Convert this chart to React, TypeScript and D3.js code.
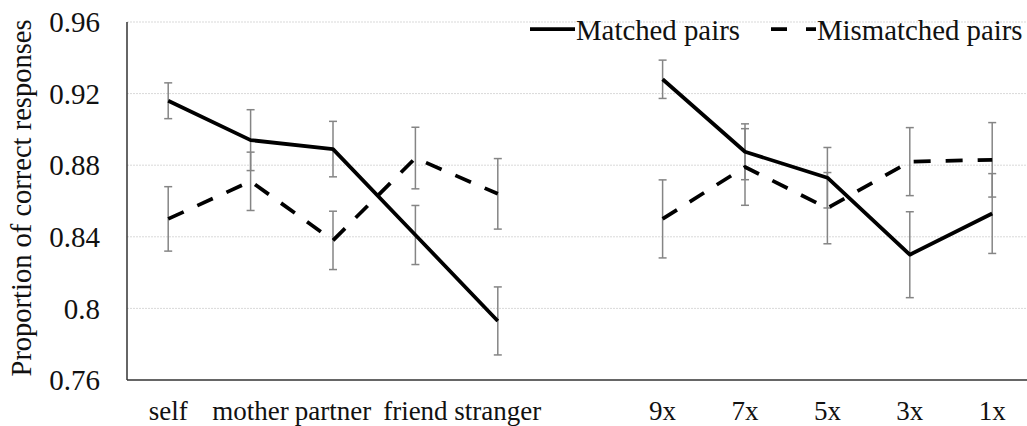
import React, { useEffect, useRef } from 'react';
import * as d3 from 'd3';

const personLabels = ['self', 'mother', 'partner', 'friend', 'stranger'];
const freqLabels = ['9x', '7x', '5x', '3x', '1x'];
const yTicks = [0.76, 0.8, 0.84, 0.88, 0.92, 0.96];

const matchedPerson = [0.916, 0.894, 0.889, 0.841, 0.793];
const matchedPersonErr = [0.010, 0.017, 0.0155, 0.0165, 0.019];
const mismatchedPerson = [0.850, 0.871, 0.838, 0.884, 0.864];
const mismatchedPersonErr = [0.018, 0.0163, 0.0163, 0.0172, 0.0197];

const matchedFreq = [0.928, 0.8875, 0.873, 0.830, 0.853];
const matchedFreqErr = [0.0107, 0.0156, 0.0169, 0.024, 0.0223];
const mismatchedFreq = [0.850, 0.879, 0.856, 0.882, 0.883];
const mismatchedFreqErr = [0.0218, 0.0214, 0.0199, 0.019, 0.0208];

type Pt = { cat: string; v: number; e: number };

export default function App() {
  const ref = useRef<SVGGElement>(null);

  useEffect(() => {
    const width = 1027;
    const height = 426;
    const left = 127;
    const top = 22;
    const bottom = 380;
    const dash = '17,15';

    const svg = d3.select(ref.current);
    svg.selectAll('*').remove();

    // blank slot between the two panels
    const domain = [...personLabels, '_gap', ...freqLabels];
    const x = d3.scalePoint<string>()
      .domain(domain)
      .range([left, left + 82.4 * domain.length])
      .padding(0.5);

    const y = d3.scaleLinear()
      .domain([0.76, 0.96])
      .range([bottom, top]);

    svg.append('rect')
      .attr('width', width)
      .attr('height', height)
      .attr('fill', 'white');

    // gridlines
    svg.append('g')
      .selectAll('line')
      .data(yTicks.slice(1))
      .enter()
      .append('line')
      .attr('x1', left)
      .attr('x2', width)
      .attr('y1', d => y(d))
      .attr('y2', d => y(d))
      .attr('stroke', '#d9d9d9')
      .attr('stroke-width', 1)
      .attr('stroke-dasharray', '2,1');

    const txt = svg.append('g').attr('fill', '#111');

    // y tick labels
    txt.append('g')
      .selectAll('text')
      .data(yTicks)
      .enter()
      .append('text')
      .attr('x', 100)
      .attr('y', d => y(d))
      .attr('dy', '0.35em')
      .attr('text-anchor', 'end')
      .attr('font-size', 29)
      .text(d => d3.format('')(d));

    // y axis title
    txt.append('text')
      .attr('transform', `translate(31, ${(top + bottom) / 2 - 3}) rotate(-90)`)
      .attr('text-anchor', 'middle')
      .attr('font-size', 28.5)
      .text('Proportion of correct responses');

    // category labels
    txt.append('g')
      .selectAll('text')
      .data([...personLabels, ...freqLabels])
      .enter()
      .append('text')
      .attr('x', d => x(d) as number)
      .attr('y', 420)
      .attr('text-anchor', 'middle')
      .attr('font-size', 27)
      .text(d => d);

    const toPts = (cats: string[], vals: number[], errs: number[]): Pt[] =>
      cats.map((c, i) => ({ cat: c, v: vals[i], e: errs[i] }));

    const series = [
      { pts: toPts(personLabels, matchedPerson, matchedPersonErr), dashed: false },
      { pts: toPts(personLabels, mismatchedPerson, mismatchedPersonErr), dashed: true },
      { pts: toPts(freqLabels, matchedFreq, matchedFreqErr), dashed: false },
      { pts: toPts(freqLabels, mismatchedFreq, mismatchedFreqErr), dashed: true },
    ];

    // error bars
    const eb = svg.append('g').attr('stroke', '#858585').attr('stroke-width', 1.5);
    series.forEach(s => {
      s.pts.forEach(p => {
        const cx = x(p.cat) as number;
        eb.append('line')
          .attr('x1', cx).attr('x2', cx)
          .attr('y1', y(p.v + p.e)).attr('y2', y(p.v - p.e));
        [p.v + p.e, p.v - p.e].forEach(v => {
          eb.append('line')
            .attr('x1', cx - 4).attr('x2', cx + 4)
            .attr('y1', y(v)).attr('y2', y(v));
        });
      });
    });

    const line = d3.line<Pt>()
      .x(d => x(d.cat) as number)
      .y(d => y(d.v));

    series.forEach(s => {
      svg.append('path')
        .datum(s.pts)
        .attr('d', line)
        .attr('fill', 'none')
        .attr('stroke', 'black')
        .attr('stroke-width', 3.75)
        .attr('stroke-linejoin', 'round')
        .attr('stroke-dasharray', s.dashed ? dash : null);
    });

    // axes lines
    svg.append('line')
      .attr('x1', left).attr('x2', left)
      .attr('y1', top).attr('y2', bottom)
      .attr('stroke', '#333')
      .attr('stroke-width', 1.5);
    svg.append('line')
      .attr('x1', left).attr('x2', width)
      .attr('y1', bottom).attr('y2', bottom)
      .attr('stroke', '#333')
      .attr('stroke-width', 1.5);

    // legend
    const legend = [
      { label: 'Matched pairs', x0: 530, dashed: false },
      { label: 'Mismatched pairs', x0: 771, dashed: true },
    ];
    legend.forEach(l => {
      svg.append('line')
        .attr('x1', l.x0).attr('x2', l.x0 + 45)
        .attr('y1', 29).attr('y2', 29)
        .attr('stroke', 'black')
        .attr('stroke-width', 3.75)
        .attr('stroke-dasharray', l.dashed ? '16,19' : null);
      txt.append('text')
        .attr('x', l.x0 + 46)
        .attr('y', 40)
        .attr('font-size', 28.8)
        .text(l.label);
    });
  }, []);

  return (
    <svg
      width={1027}
      height={426}
      style={{ position: 'absolute', left: 0, top: 0, overflow: 'hidden' }}
    >
      <g ref={ref} />
    </svg>
  );
}
